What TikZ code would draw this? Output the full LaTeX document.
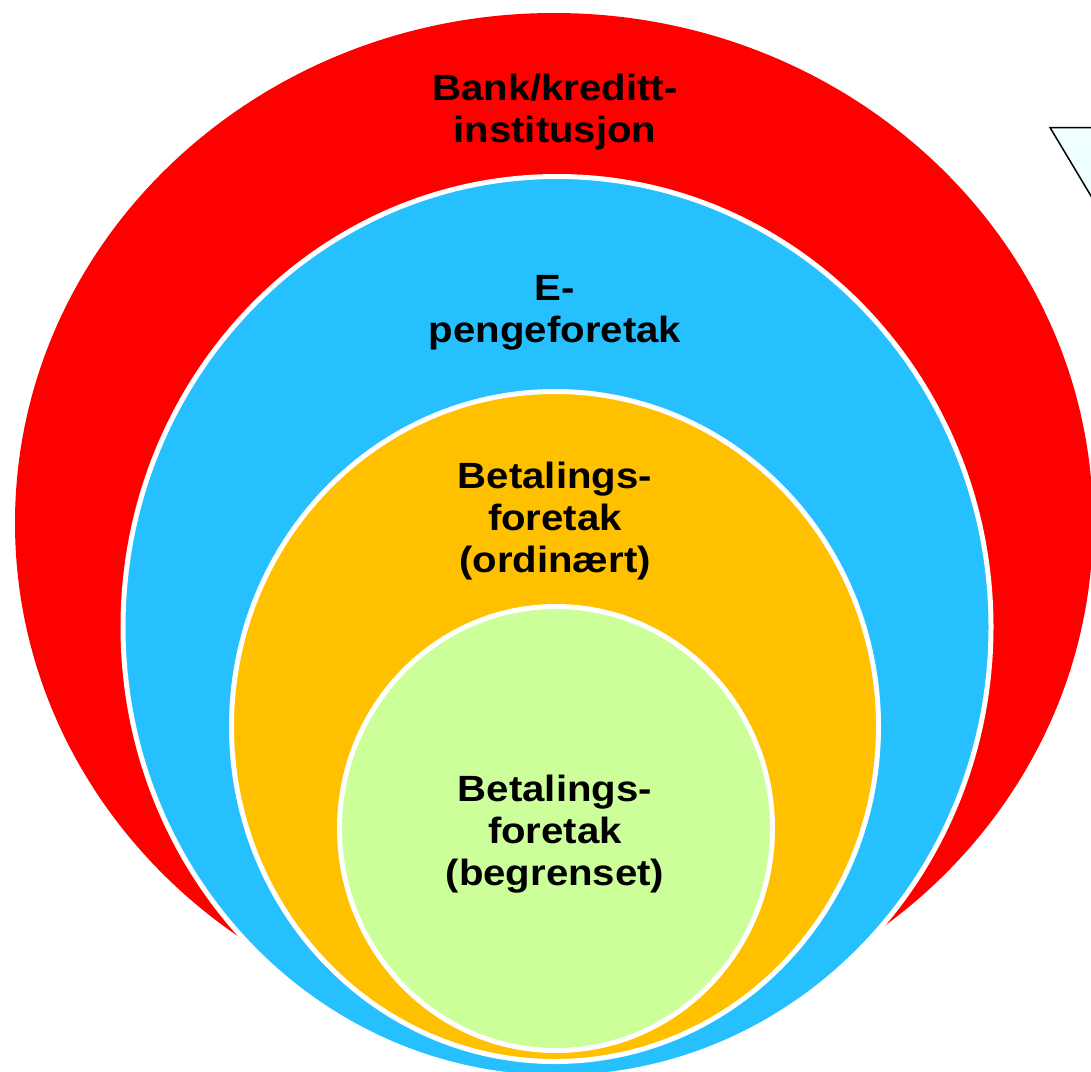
\documentclass[tikz,border=0pt]{standalone}
\usepackage{fontspec}
\newfontfamily\lab{Liberation Sans Bold}[FakeStretch=1.1]
\definecolor{ringred}{RGB}{255,0,0}
\definecolor{ringblue}{RGB}{38,192,255}
\definecolor{ringorange}{RGB}{255,192,0}
\definecolor{ringgreen}{RGB}{204,255,153}
\definecolor{calloutfill}{RGB}{240,255,255}
\tikzset{
  ring/.style={draw=white, line width=5pt},
  ringlabel/.style={font=\lab\fontsize{36.5}{42}\selectfont, align=center, text=black, inner sep=0pt}
}
\begin{document}
\begin{tikzpicture}[x=1pt, y=-1pt]
  \useasboundingbox (0,0) rectangle (1091,1071);
  \clip (0,0) rectangle (1091,1071);
  % nested institution types
  \fill[ringred] (554,523) ellipse [x radius=539, y radius=510];
  \filldraw[ring, fill=ringblue] (557,627) ellipse [x radius=434, y radius=450.5];
  \filldraw[ring, fill=ringorange] (555,726.5) ellipse [x radius=323.5, y radius=335];
  \filldraw[ring, fill=ringgreen] (556,828.5) ellipse [x radius=216.5, y radius=222];
  % labels
  \node[ringlabel] (bank) at (555,112) {Bank/kreditt-\\institusjon};
  \node[ringlabel] (emoney) at (555,313) {E-\\pengeforetak};
  \node[ringlabel] (ordinary) at (555,521) {Betalings-\\foretak\\(ordinært)};
  \node[ringlabel] (limited) at (555,834) {Betalings-\\foretak\\(begrenset)};
  % callout at the right edge
  \filldraw[fill=calloutfill, draw=black, line width=1.5pt]
    (1050,127.5) -- (1100,127.5) -- (1100,211) -- cycle;
\end{tikzpicture}
\end{document}
